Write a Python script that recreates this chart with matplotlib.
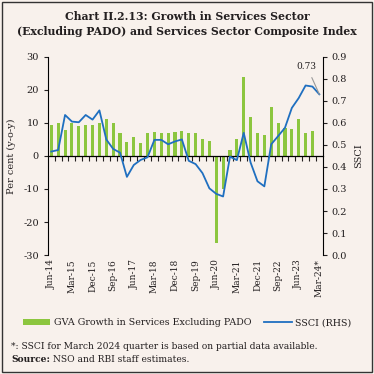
import matplotlib
matplotlib.use("Agg")
import matplotlib.pyplot as plt
from matplotlib.patches import Rectangle

quarters = [
    "Jun-14", "Sep-14", "Dec-14", "Mar-15", "Jun-15", "Sep-15", "Dec-15", "Mar-16",
    "Jun-16", "Sep-16", "Dec-16", "Mar-17", "Jun-17", "Sep-17", "Dec-17", "Mar-18",
    "Jun-18", "Sep-18", "Dec-18", "Mar-19", "Jun-19", "Sep-19", "Dec-19", "Mar-20",
    "Jun-20", "Sep-20", "Dec-20", "Mar-21", "Jun-21", "Sep-21", "Dec-21", "Mar-22",
    "Jun-22", "Sep-22", "Dec-22", "Mar-23", "Jun-23", "Sep-23", "Dec-23", "Mar-24*",
]
# GVA growth in services excl. PADO (per cent, y-o-y); no value yet for Mar-24
gva_growth = [
    9.4, 10.1, 8.0, 10.0, 9.2, 9.4, 9.3, 10.1, 11.3, 9.9,
    6.9, 4.3, 5.8, 3.8, 6.8, 7.4, 7.0, 7.0, 7.2, 7.5,
    6.9, 6.8, 5.0, 4.6, -26.3, -10.1, 1.8, 5.2, 24.0, 11.8,
    6.8, 6.4, 14.8, 10.1, 8.4, 8.1, 11.2, 6.8, 7.6,
]
ssci = [
    0.47, 0.477, 0.636, 0.606, 0.603, 0.636, 0.615, 0.657, 0.525, 0.482,
    0.465, 0.355, 0.409, 0.432, 0.444, 0.523, 0.523, 0.503, 0.516, 0.525,
    0.428, 0.413, 0.372, 0.303, 0.278, 0.266, 0.447, 0.431, 0.555, 0.42,
    0.335, 0.312, 0.503, 0.54, 0.578, 0.668, 0.713, 0.77, 0.765, 0.73,
]
label_quarters = quarters[::3]

BG = "#f8f1ec"
GREEN = "#8cc63f"
BLUE = "#1f6fc0"
TXT = "#231f20"
plt.rcParams["font.family"] = ["DejaVu Serif"]
plt.rcParams["axes.unicode_minus"] = False

fig = plt.figure(figsize=(3.74, 3.74), dpi=100, facecolor=BG)
fig.patches.append(Rectangle((0.006, 0.006), 0.988, 0.988, transform=fig.transFigure,
                             fill=False, edgecolor="#333333", linewidth=1.0))
ax = fig.add_axes([0.128, 0.318, 0.735, 0.53])
ax.set_facecolor(BG)

x = list(range(len(quarters)))
bars = ax.bar(x[:len(gva_growth)], gva_growth, width=0.45, color=GREEN,
              label="GVA Growth in Services Excluding PADO")
ax.set_xlim(-0.5, len(quarters) - 0.5)
ax.set_ylim(-30, 30)
ax.set_yticks([-30, -20, -10, 0, 10, 20, 30])
ax.set_ylabel("Per cent (y-o-y)", fontsize=7, color=TXT, labelpad=5)
ax.set_xticks(x[::3])
ax.set_xticklabels(label_quarters, rotation=90, fontsize=6.5, color=TXT)
ax.tick_params(axis="x", length=0, pad=3)
ax.tick_params(axis="y", labelsize=7, colors=TXT, length=3, width=0.8)
for s in ["top", "right", "bottom"]:
    ax.spines[s].set_visible(False)
ax.spines["left"].set_linewidth(0.8)

# zero line with quarter ticks pointing down
zero = ax.secondary_xaxis(0.5)
zero.set_xticks([i + 0.5 for i in x[:-1]])
zero.set_xticklabels([""] * (len(x) - 1))
zero.tick_params(axis="x", bottom=True, top=False, labelbottom=False, labeltop=False,
                 length=3.5, width=0.8, direction="out", color=TXT)
zero.xaxis.set_ticks_position("bottom")
zero.spines["bottom"].set_visible(True)
zero.spines["bottom"].set_linewidth(0.9)
zero.spines["top"].set_visible(False)
zero.set_zorder(3)

ax2 = ax.twinx()
line, = ax2.plot(x, ssci, color=BLUE, linewidth=1.3, label="SSCI (RHS)")
ax2.set_ylim(0, 0.9)
ax2.set_yticks([i / 10 for i in range(10)])
ax2.set_yticklabels([f"{i / 10:.1f}" for i in range(10)])
ax2.tick_params(axis="y", labelsize=7, colors=TXT, length=3, width=0.8)
ax2.set_ylabel("SSCI", fontsize=7, color=TXT, labelpad=5)
for s in ["top", "left", "bottom"]:
    ax2.spines[s].set_visible(False)
ax2.spines["right"].set_linewidth(0.8)
ax2.annotate(f"{ssci[-1]:.2f}", xy=(x[-1], ssci[-1]), xytext=(-9, 20),
             textcoords="offset points", fontsize=6.5, color=TXT, ha="center",
             va="center",
             arrowprops=dict(arrowstyle="-", color="#999999", lw=0.8,
                             shrinkA=3, shrinkB=0))

fig.text(0.5, 0.955, "Chart II.2.13: Growth in Services Sector", ha="center",
         va="center", fontsize=7.8, fontweight="bold", color=TXT)
fig.text(0.5, 0.915, "(Excluding PADO) and Services Sector Composite Index",
         ha="center", va="center", fontsize=7.8, fontweight="bold", color=TXT)

fig.legend([bars, line], ["GVA Growth in Services Excluding PADO", "SSCI (RHS)"],
           loc="center", bbox_to_anchor=(0.5, 0.137), ncol=2, frameon=False,
           fontsize=6.8, handlelength=2.9, columnspacing=1.4, handletextpad=0.35,
           labelcolor=TXT, handleheight=0.5)

fig.text(0.03, 0.073, "*: SSCI for March 2024 quarter is based on partial data available.",
         fontsize=6.6, color=TXT, va="center")
src = fig.text(0.03, 0.04, "Source:", fontsize=6.6, color=TXT, va="center",
               fontweight="bold")
ax.annotate(" NSO and RBI staff estimates.", xy=(1, 0.5), xycoords=src,
            fontsize=6.6, color=TXT, va="center", ha="left",
            annotation_clip=False)

fig.savefig("out.png", dpi=100, facecolor=BG)
